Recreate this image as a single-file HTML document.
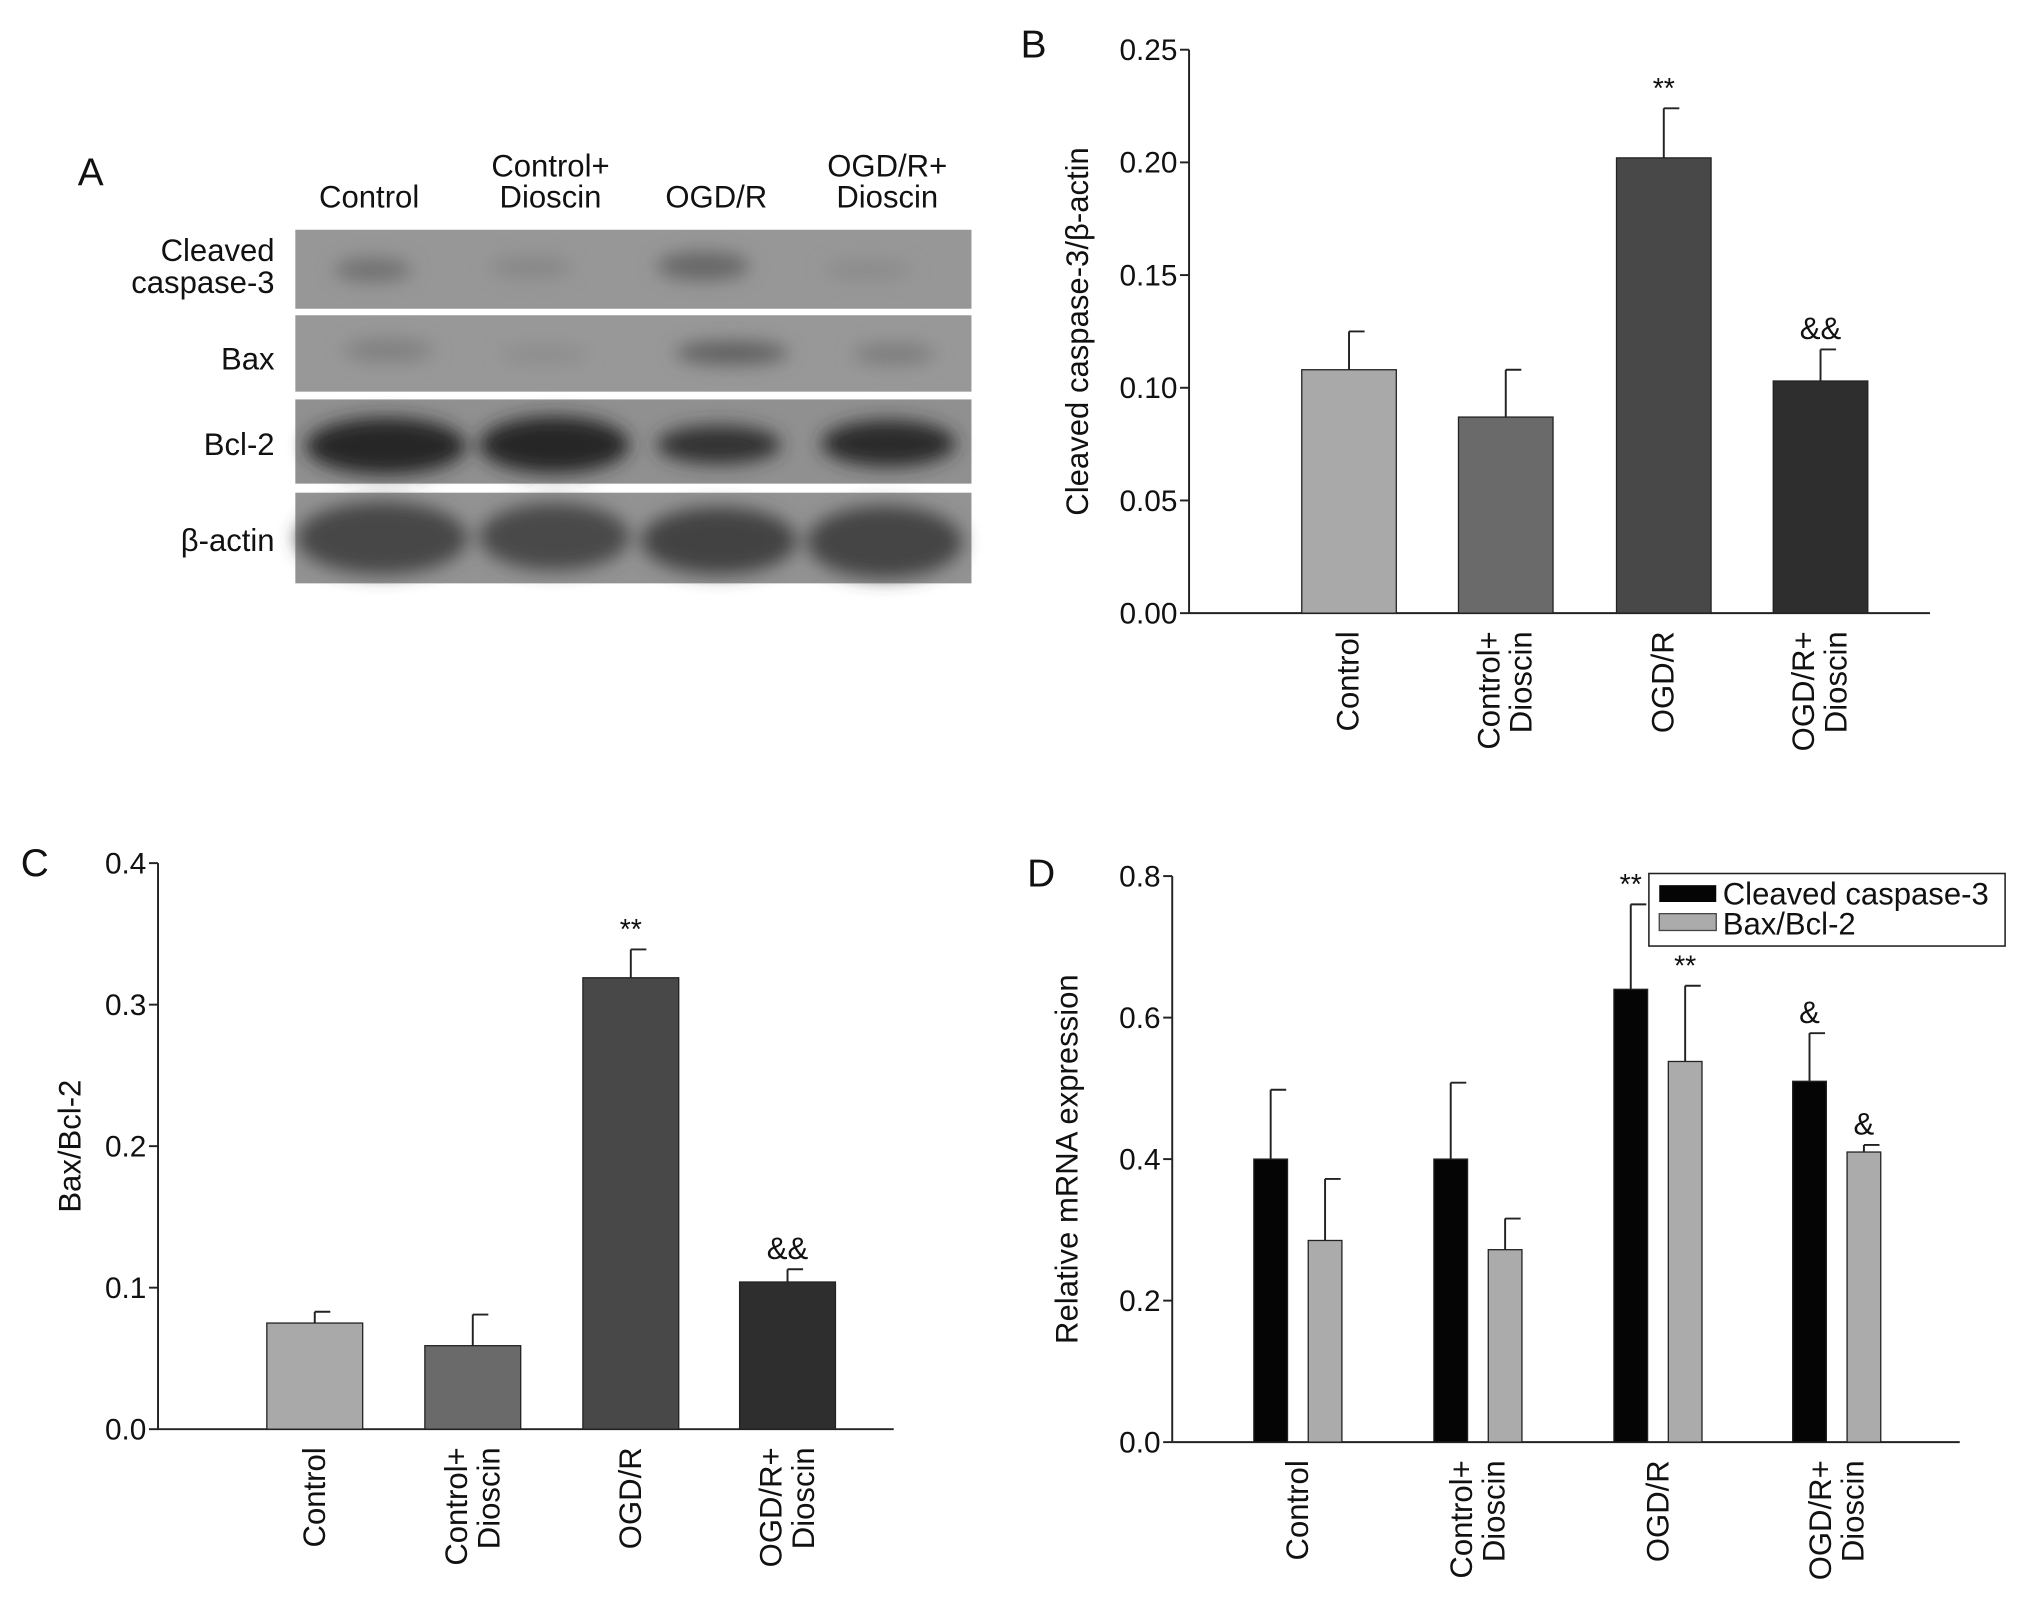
<!DOCTYPE html>
<html><head><meta charset="utf-8"><style>
html,body{margin:0;padding:0;background:#fff;}
svg{display:block;}
text{font-family:"Liberation Sans",sans-serif;fill:#111;}
</style></head><body>
<svg id="fig" width="2031" height="1611" viewBox="0 0 1568 1243" xmlns="http://www.w3.org/2000/svg">
<defs>
<filter id="blur" x="-30%" y="-60%" width="160%" height="220%"><feGaussianBlur stdDeviation="7"/></filter>
</defs>
<rect width="1568" height="1243" fill="#fff"/>
<g id="panelA">
<text x="60" y="143" font-size="30">A</text>
<text x="285" y="160" font-size="24" text-anchor="middle">Control</text>
<text x="425" y="136" font-size="24" text-anchor="middle">Control+</text>
<text x="425" y="160" font-size="24" text-anchor="middle">Dioscin</text>
<text x="553" y="160" font-size="24" text-anchor="middle">OGD/R</text>
<text x="685" y="136" font-size="24" text-anchor="middle">OGD/R+</text>
<text x="685" y="160" font-size="24" text-anchor="middle">Dioscin</text>
<text x="212" y="201" font-size="24" text-anchor="end">Cleaved</text>
<text x="212" y="226" font-size="24" text-anchor="end">caspase-3</text>
<text x="212" y="285" font-size="24" text-anchor="end">Bax</text>
<text x="212" y="351" font-size="24" text-anchor="end">Bcl-2</text>
<text x="212" y="425" font-size="24" text-anchor="end">β-actin</text>
<rect x="228" y="177" width="522" height="61" fill="#979797"/>
<rect x="228" y="243" width="522" height="59" fill="#989898"/>
<rect x="228" y="308" width="522" height="65" fill="#909090"/>
<rect x="228" y="380" width="522" height="70" fill="#939393"/>
<g filter="url(#blur)">
<ellipse cx="288" cy="208" rx="30" ry="9" fill="#6f6f6f"/>
<ellipse cx="410" cy="206" rx="32" ry="8" fill="#868686"/>
<ellipse cx="543" cy="205" rx="36" ry="11" fill="#666"/>
<ellipse cx="670" cy="208" rx="34" ry="7" fill="#8a8a8a"/>
<ellipse cx="300" cy="270" rx="35" ry="9" fill="#808080"/>
<ellipse cx="420" cy="273" rx="34" ry="7" fill="#8c8c8c"/>
<ellipse cx="565" cy="272" rx="44" ry="9" fill="#5f5f5f"/>
<ellipse cx="690" cy="273" rx="32" ry="8" fill="#7c7c7c"/>
<ellipse cx="298" cy="344" rx="62" ry="22" fill="#262626"/>
<ellipse cx="428" cy="343" rx="58" ry="22" fill="#282828"/>
<ellipse cx="555" cy="343" rx="48" ry="15" fill="#323232"/>
<ellipse cx="686" cy="342" rx="52" ry="18" fill="#2a2a2a"/>
<ellipse cx="295" cy="415" rx="66" ry="28" fill="#474747"/>
<ellipse cx="428" cy="414" rx="58" ry="26" fill="#484848"/>
<ellipse cx="555" cy="417" rx="60" ry="26" fill="#434343"/>
<ellipse cx="683" cy="418" rx="60" ry="28" fill="#444"/>
</g>
</g>
<g id="panelB"></g>
<g id="panelC"></g>
<g id="panelD"></g>
</svg>
<script>
const NS="http://www.w3.org/2000/svg";
const catLines=[["Control"],["Control+","Dioscin"],["OGD/R"],["OGD/R+","Dioscin"]];
const bValues=[0.108,0.087,0.202,0.103];
const bErrors=[0.017,0.021,0.022,0.014];
const bMarks=["","","**","&&"];
const bTicks=["0.00","0.05","0.10","0.15","0.20","0.25"];
const cValues=[0.075,0.059,0.319,0.104];
const cErrors=[0.008,0.022,0.020,0.009];
const cMarks=["","","**","&&"];
const cTicks=["0.0","0.1","0.2","0.3","0.4"];
const dCaspase=[0.40,0.40,0.64,0.51];
const dCaspaseErr=[0.098,0.108,0.12,0.068];
const dBaxBcl=[0.285,0.272,0.538,0.41];
const dBaxBclErr=[0.087,0.044,0.107,0.01];
const dCaspaseMarks=["","","**","&"];
const dBaxMarks=["","","**","&"];
const dTicks=["0.0","0.2","0.4","0.6","0.8"];
const barColors=["#a9a9a9","#6a6a6a","#484848","#2e2e2e"];

function mk(parent,tag,attrs,txt){const e=document.createElementNS(NS,tag);for(const k in attrs)e.setAttribute(k,attrs[k]);if(txt!==undefined)e.textContent=txt;parent.appendChild(e);return e;}

function axes(g,o){
  const ys=v=>o.y0-(v/o.max)*(o.y0-o.y1);
  const ax=mk(g,'line',{x1:o.x0,y1:o.y0,x2:o.x0,y2:o.y1,stroke:'#222','stroke-width':1.5});
  
  const xa=mk(g,'line',{x1:o.x0,y1:o.y0,x2:o.xEnd,y2:o.y0,stroke:'#222','stroke-width':1.5});
  
  o.ticks.forEach(t=>{const v=parseFloat(t);const y=ys(v);
    mk(g,'line',{x1:o.x0-7,y1:y,x2:o.x0,y2:y,stroke:'#222','stroke-width':1.5});
    const tl=mk(g,'text',{x:o.x0-9,y:y+8,'font-size':23,'text-anchor':'end'},t);
    });
  const tt=mk(g,'text',{x:o.titleX,y:(o.y0+o.y1)/2,'font-size':24,'text-anchor':'middle',transform:`rotate(-90 ${o.titleX} ${(o.y0+o.y1)/2})`},o.title);
  
  const pl=mk(g,'text',{x:o.labelX,y:o.labelY,'font-size':30},o.label);
  
  return ys;
}
function drawCats(g,centers,yTop){
  centers.forEach((cx,i)=>{const lines=catLines[i];
    lines.forEach((s,j)=>{const x=cx+(j-(lines.length-1)/2)*25+8;
      const t=mk(g,'text',{x:x,y:yTop,'font-size':24,'text-anchor':'end',transform:`rotate(-90 ${x} ${yTop})`},s);
      });});
}
function bar(g,x,w,v,e,col,ys,mark,name){
  const r=mk(g,'rect',{x:x,y:ys(v),width:w,height:ys(0)-ys(v),fill:col,stroke:'#222','stroke-width':1});
  
  const cx=x+w/2;
  const el=mk(g,'path',{d:`M${cx} ${ys(v)}V${ys(v+e)}M${cx} ${ys(v+e)}H${cx+12}`,stroke:'#222','stroke-width':1.5,fill:'none'});
  
  if(mark){const m=mk(g,'text',{x:cx,y:ys(v+e)-8,'font-size':mark.includes('*')?22:24,'text-anchor':'middle',fill:mark.includes('*')?'#555':'#111'},mark);
    }
}
(function(){const g=document.getElementById('panelB');
 const ys=axes(g,{x0:918,y0:473,y1:38,xEnd:1490,max:0.25,ticks:bTicks,title:'Cleaved caspase-3/β-actin',titleX:840,label:'B',labelX:788,labelY:44});
 const xs=[1005,1126,1248,1369];
 bValues.forEach((v,i)=>bar(g,xs[i],73,v,bErrors[i],barColors[i],ys,bMarks[i],'bar-b-'+i));
 drawCats(g,xs.map(x=>x+36),487);})();
(function(){const g=document.getElementById('panelC');
 const ys=axes(g,{x0:122,y0:1103,y1:666,xEnd:690,max:0.4,ticks:cTicks,title:'Bax/Bcl-2',titleX:62,label:'C',labelX:16,labelY:676});
 const xs=[206,328,450,571];
 cValues.forEach((v,i)=>bar(g,xs[i],74,v,cErrors[i],barColors[i],ys,cMarks[i],'bar-c-'+i));
 drawCats(g,xs.map(x=>x+37),1117);})();
(function(){const g=document.getElementById('panelD');
 const ys=axes(g,{x0:905,y0:1113,y1:676,xEnd:1513,max:0.8,ticks:dTicks,title:'Relative mRNA expression',titleX:832,label:'D',labelX:793,labelY:684});
 const xs=[968,1107,1246,1384];
 xs.forEach((x,i)=>{bar(g,x,26,dCaspase[i],dCaspaseErr[i],'#050505',ys,dCaspaseMarks[i],'bar-d-caspase-'+i);
   bar(g,x+42,26,dBaxBcl[i],dBaxBclErr[i],'#ababab',ys,dBaxMarks[i],'bar-d-baxbcl-'+i);});
 drawCats(g,xs.map(x=>x+34),1127);
 const lg=mk(g,'g',{});
 mk(lg,'rect',{x:1273,y:674,width:275,height:56,fill:'#fff',stroke:'#222','stroke-width':1.2});
 mk(lg,'rect',{x:1281,y:683,width:44,height:13,fill:'#050505'});
 mk(lg,'rect',{x:1281,y:705,width:44,height:13,fill:'#ababab',stroke:'#444','stroke-width':1});
 const l1=mk(lg,'text',{x:1330,y:698,'font-size':24},'Cleaved caspase-3');
 const l2=mk(lg,'text',{x:1330,y:721,'font-size':24},'Bax/Bcl-2');
})();
</script>
</body></html>
